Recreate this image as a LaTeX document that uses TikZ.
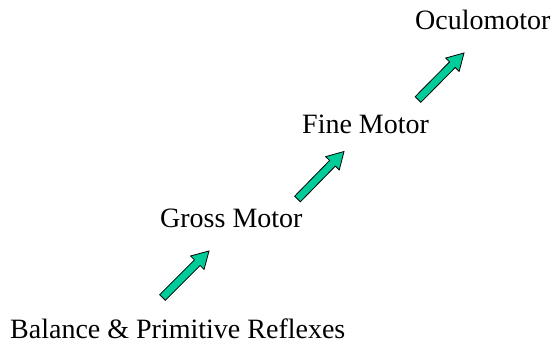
\documentclass[tikz,border=0pt]{standalone}
\usepackage{fontspec}
\setmainfont{Liberation Serif}
\usetikzlibrary{calc}
\definecolor{arrowgreen}{RGB}{0,204,153}
\tikzset{
  lbl/.style={anchor=base west, inner sep=0pt, font=\fontsize{28}{32}\selectfont},
  arrowfill/.style={fill=arrowgreen, draw=black, line width=0.8pt, line join=miter}
}
\newcommand\blockarr[2]{%
  \path ($(#2)!16.5pt!(#1)$) coordinate (hb);
  \draw[arrowfill] ($(#1)!4pt!90:(#2)$) -- ($(hb)!4pt!-90:(#1)$) -- ($(hb)!9.5pt!-90:(#1)$) -- (#2)
    -- ($(hb)!9.5pt!90:(#1)$) -- ($(hb)!4pt!90:(#1)$) -- ($(#1)!4pt!-90:(#2)$) -- cycle;
}
\begin{document}
\begin{tikzpicture}[x=1pt, y=-1pt]
  \useasboundingbox (0,0) rectangle (553,345);
  \node[lbl] (bal) at (10,338.5) {Balance \& Primitive Reflexes};
  \node[lbl] (gross) at (160,227) {Gross Motor};
  \node[lbl] (fine) at (302,133) {Fine Motor};
  \node[lbl] (ocu) at (415,29.5) {Oculomotor};
  \coordinate (t3) at (162.5,297.5); \coordinate (h3) at (209,251);
  \coordinate (t2) at (297.5,199);   \coordinate (h2) at (344,151.5);
  \coordinate (t1) at (418,99.5);    \coordinate (h1) at (464,53);
  \blockarr{t3}{h3}
  \blockarr{t2}{h2}
  \blockarr{t1}{h1}
\end{tikzpicture}
\end{document}
